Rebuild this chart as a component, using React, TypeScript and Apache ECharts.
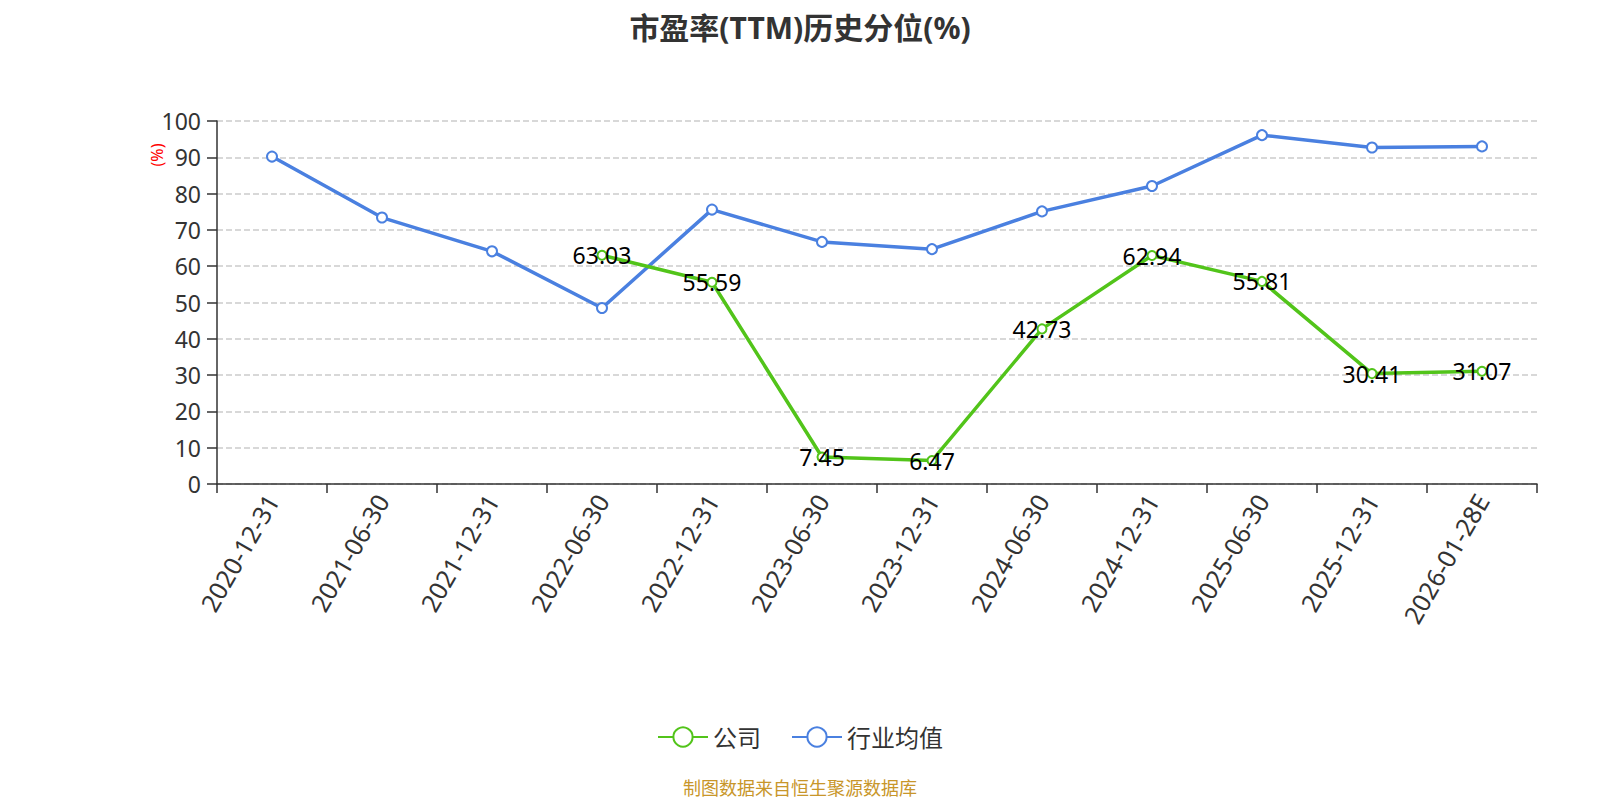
import React, { useEffect, useRef } from 'react';
import * as echarts from 'echarts';

const dates = [
  '2020-12-31', '2021-06-30', '2021-12-31', '2022-06-30', '2022-12-31', '2023-06-30',
  '2023-12-31', '2024-06-30', '2024-12-31', '2025-06-30', '2025-12-31', '2026-01-28E',
];
const companyValues = [null, null, null, 63.03, 55.59, 7.45, 6.47, 42.73, 62.94, 55.81, 30.41, 31.07];
const industryValues = [90.2, 73.4, 64.1, 48.5, 75.6, 66.7, 64.7, 75.1, 82.1, 96.1, 92.7, 93.0];

const GREEN = '#52C41A';
const BLUE = '#4A80E0';
const FONT = '"Noto Sans", "Noto Sans CJK SC", sans-serif';

const App: React.FC = () => {
  const chartRef = useRef<HTMLDivElement>(null);

  useEffect(() => {
    if (!chartRef.current) return;
    const chart = echarts.init(chartRef.current, null, { renderer: 'svg' });

    const option = {
      animation: false,
      textStyle: { fontFamily: FONT },
      title: {
        text: '市盈率(TTM)历史分位(%)',
        left: 'center',
        top: 3,
        padding: 0,
        textStyle: { fontSize: 30, fontWeight: 'bold', color: '#333', fontFamily: FONT, lineHeight: 32 },
      },
      legend: {
        bottom: 46,
        left: 'center',
        itemWidth: 50,
        itemHeight: 24,
        itemGap: 30,
        textStyle: { fontSize: 24, color: '#333', fontFamily: FONT },
        data: ['公司', '行业均值'],
      },
      grid: { left: 209, right: 55, top: 113, bottom: 316 },
      graphic: [
        {
          type: 'text',
          x: 149,
          y: 147,
          rotation: Math.PI / 2,
          style: {
            text: '(%)',
            fill: '#ff0000',
            fontSize: 16,
            fontFamily: FONT,
            textAlign: 'center',
            textVerticalAlign: 'middle',
          },
        },
        {
          type: 'text',
          left: 'center',
          bottom: 3,
          style: {
            text: '制图数据来自恒生聚源数据库',
            fill: '#C8962A',
            fontSize: 18,
            fontFamily: FONT,
          },
        },
      ],
      xAxis: {
        type: 'category',
        data: dates,
        boundaryGap: true,
        axisLine: { lineStyle: { color: '#333', width: 1.5 } },
        axisTick: { show: true, length: 9, lineStyle: { color: '#333', width: 1.5 } },
        axisLabel: { rotate: 60, fontSize: 25, color: '#333', margin: 12, interval: 0, fontFamily: FONT },
      },
      yAxis: {
        type: 'value',
        min: 0,
        max: 100,
        interval: 10,
        axisLine: { show: true, lineStyle: { color: '#333', width: 1.5 } },
        axisTick: { show: true, length: 10, lineStyle: { color: '#333', width: 1.5 } },
        axisLabel: { fontSize: 23, color: '#333', margin: 16, fontFamily: FONT },
        splitLine: { lineStyle: { type: 'dashed', color: '#ccc', width: 1.5 } },
      },
      series: [
        {
          name: '公司',
          type: 'line',
          data: companyValues,
          connectNulls: false,
          symbol: 'emptyCircle',
          symbolSize: 9,
          itemStyle: { color: GREEN, borderWidth: 2 },
          lineStyle: { width: 3.5, color: GREEN },
          label: {
            show: true,
            position: 'inside',
            fontSize: 23,
            color: '#000',
            fontFamily: FONT,
          },
          z: 3,
        },
        {
          name: '行业均值',
          type: 'line',
          data: industryValues,
          symbol: 'emptyCircle',
          symbolSize: 10,
          itemStyle: { color: BLUE, borderWidth: 2 },
          lineStyle: { width: 3.5, color: BLUE },
          z: 2,
        },
      ],
    };

    chart.setOption(option);

    return () => {
      chart.dispose();
    };
  }, []);

  return <div ref={chartRef} style={{ width: '100%', height: '792px' }}></div>;
};

export default App;
